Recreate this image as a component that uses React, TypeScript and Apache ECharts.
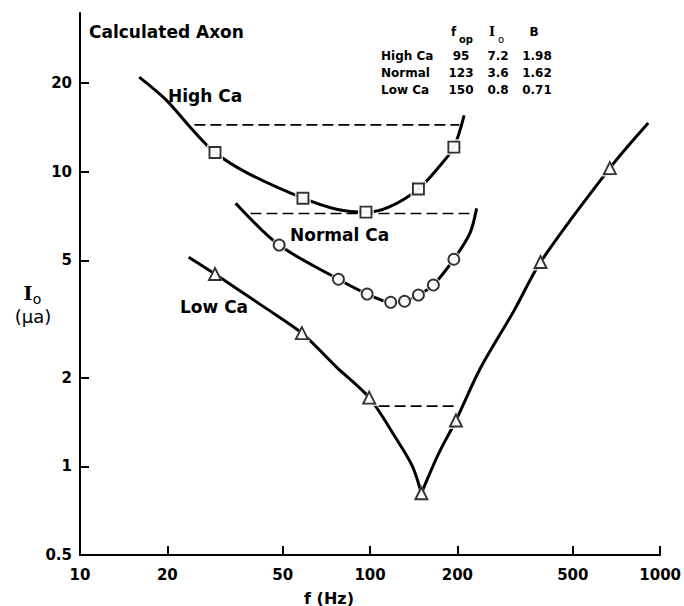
import React, { useEffect, useRef } from 'react';
import * as echarts from 'echarts';

// Axis tick labels (log-log plot)
const xTickLabels = [10, 20, 50, 100, 200, 500, 1000];
const yTickLabels = [0.5, 1, 2, 5, 10, 20];

// Smooth curves (f in Hz, I0 in µA)
const highCaCurveF = [16.0, 19.8, 24.2, 29.2, 37.8, 58.7, 76.6, 96.8, 116, 146.8, 171.8, 194.5, 211];
const highCaCurveI = [20.9, 17.5, 14.0, 11.6, 9.88, 8.12, 7.45, 7.28, 7.57, 8.72, 10.3, 12.1, 15.5];

const normalCaCurveF = [34.4, 48.6, 77.8, 97.7, 117.8, 131.5, 146.8, 165.3, 194.5, 221, 233];
const normalCaCurveI = [7.81, 5.63, 4.31, 3.84, 3.6, 3.63, 3.81, 4.12, 5.04, 6.18, 7.5];

const lowCaLeftF = [23.7, 29.2, 43.3, 58.2, 76.6, 99.3, 122.5, 140, 150.3];
const lowCaLeftI = [5.12, 4.49, 3.46, 2.83, 2.17, 1.71, 1.25, 1.0, 0.81];
const lowCaRightF = [150.3, 172, 197.7, 240, 314, 387, 671, 910];
const lowCaRightI = [0.81, 1.1, 1.43, 2.15, 3.38, 4.93, 10.27, 14.6];

// Markers
const highCaF = [29.2, 58.7, 96.8, 146.8, 194.5];
const highCaI = [11.6, 8.12, 7.28, 8.72, 12.1];
const normalCaF = [48.6, 77.8, 97.7, 117.8, 131.5, 146.8, 165.3, 194.5];
const normalCaI = [5.63, 4.31, 3.84, 3.6, 3.63, 3.81, 4.12, 5.04];
const lowCaF = [29.2, 58.2, 99.3, 150.3, 197.7, 387, 671];
const lowCaI = [4.49, 2.83, 1.71, 0.81, 1.43, 4.93, 10.27];

// Dashed lines at 2 x I0
const highDashF = [24.8, 203];
const normalDashF = [38.7, 230];
const lowDashF = [107, 202];

// Table
const tableRows = ['High Ca', 'Normal', 'Low Ca'];
const tableFop = ['95', '123', '150'];
const tableI0 = ['7.2', '3.6', '0.8'];
const tableB = ['1.98', '1.62', '0.71'];
const tableI0Values = [7.2, 3.6, 0.8];

const L = Math.log10;
const zip = (f: number[], i: number[]) => f.map((v, k) => [L(v), L(i[k])]);
const fmt = (v: number) => String(Number(Math.pow(10, v).toPrecision(6)));

const FONT = 'DejaVu Sans';

export default function App() {
  const ref = useRef<HTMLDivElement>(null);
  useEffect(() => {
    if (!ref.current) return;
    const chart = echarts.init(ref.current, null, { renderer: 'svg' });

    const curveSeries = (data: number[][]) => ({
      type: 'line',
      data,
      showSymbol: false,
      smooth: 0.3,
      lineStyle: { color: '#000', width: 3 },
      z: 2,
      silent: true,
    });
    const dashSeries = (f: number[], level: number) => ({
      type: 'line',
      data: f.map((v) => [L(v), L(level)]),
      showSymbol: false,
      lineStyle: { color: '#000', width: 1.6, type: [11, 5] },
      z: 2,
      silent: true,
    });
    const gapSeries = (data: number[][], symbol: string, size: number) => ({
      type: 'scatter',
      data,
      symbol,
      symbolSize: size,
      itemStyle: { color: '#fff', borderWidth: 0 },
      z: 3,
      silent: true,
    });
    const markerSeries = (data: number[][], symbol: string, size: number) => ({
      type: 'scatter',
      data,
      symbol,
      symbolSize: size,
      itemStyle: { color: '#fff', borderColor: '#000', borderWidth: 1.9 },
      z: 4,
      silent: true,
    });

    const txt = (text: string, x: number, y: number, size: number, opts: any = {}) => ({
      type: 'text',
      x,
      y,
      style: {
        text,
        fontSize: size,
        fontWeight: opts.weight || 'bold',
        fontFamily: opts.family || FONT,
        fill: '#000',
        align: opts.align || 'left',
        verticalAlign: 'middle',
      },
      silent: true,
    });

    const rowY = [56, 73, 90];
    const tableEls: any[] = [];
    tableRows.forEach((name, k) => {
      tableEls.push(txt(name, 381, rowY[k], 12));
      tableEls.push(txt(tableFop[k], 461, rowY[k], 12, { align: 'center' }));
      tableEls.push(txt(tableI0[k], 498, rowY[k], 12, { align: 'center' }));
      tableEls.push(txt(tableB[k], 537, rowY[k], 12, { align: 'center' }));
    });

    const highMarks = zip(highCaF, highCaI);
    const normalMarks = zip(normalCaF, normalCaI);
    const lowMarks = zip(lowCaF, lowCaI);

    chart.setOption({
      animation: false,
      backgroundColor: '#fff',
      grid: { left: 80, right: 16, top: 13, bottom: 51 },
      xAxis: {
        type: 'value',
        min: L(10),
        max: L(1000),
        axisLine: { show: true, onZero: false, lineStyle: { color: '#000', width: 2 } },
        axisTick: {
          show: true,
          inside: true,
          length: 9,
          lineStyle: { color: '#000', width: 2 },
          customValues: xTickLabels.map(L),
        },
        axisLabel: {
          customValues: xTickLabels.map(L),
          formatter: (v: number) => fmt(v),
          color: '#000',
          fontFamily: FONT,
          fontWeight: 'bold',
          fontSize: 15,
          margin: 12,
        },
        splitLine: { show: false },
      },
      yAxis: {
        type: 'value',
        min: L(0.5),
        max: L(34.5),
        axisLine: { show: true, onZero: false, lineStyle: { color: '#000', width: 2 } },
        axisTick: {
          show: true,
          inside: true,
          length: 9,
          lineStyle: { color: '#000', width: 2 },
          customValues: yTickLabels.map(L),
        },
        axisLabel: {
          customValues: yTickLabels.map(L),
          formatter: (v: number) => fmt(v),
          color: '#000',
          fontFamily: FONT,
          fontWeight: 'bold',
          fontSize: 15,
          margin: 8,
        },
        splitLine: { show: false },
      },
      series: [
        curveSeries(zip(highCaCurveF, highCaCurveI)),
        curveSeries(zip(normalCaCurveF, normalCaCurveI)),
        curveSeries(zip(lowCaLeftF, lowCaLeftI)),
        curveSeries(zip(lowCaRightF, lowCaRightI)),
        dashSeries(highDashF, 2 * tableI0Values[0]),
        dashSeries(normalDashF, 2 * tableI0Values[1]),
        dashSeries(lowDashF, 2 * tableI0Values[2]),
        gapSeries(highMarks, 'rect', 16),
        gapSeries(normalMarks, 'circle', 15),
        gapSeries(lowMarks, 'triangle', 17),
        markerSeries(highMarks, 'rect', 11),
        markerSeries(normalMarks, 'circle', 11),
        markerSeries(lowMarks, 'triangle', 12),
      ],
      graphic: [
        txt('Calculated Axon', 89, 32, 17),
        txt('High Ca', 168, 96, 17),
        txt('Normal Ca', 290, 235, 17),
        txt('Low Ca', 180, 307, 17),
        txt('f (Hz)', 329, 598, 16, { align: 'center' }),
        txt('I', 28, 293, 19, { align: 'center', family: 'DejaVu Serif' }),
        txt('o', 37, 299, 14, { align: 'center', weight: 'normal' }),
        txt('(μa)', 33, 316, 18, { align: 'center', weight: 'normal' }),
        txt('f', 451, 32, 12),
        txt('op', 466, 39, 10, { align: 'center' }),
        txt('I', 492, 31, 13, { align: 'center', family: 'DejaVu Serif' }),
        txt('o', 501, 39, 10, { align: 'center', weight: 'normal' }),
        txt('B', 534, 32, 12, { align: 'center' }),
        ...tableEls,
      ],
    });
    return () => chart.dispose();
  }, []);
  return (
    <div
      ref={ref}
      style={{ position: 'absolute', left: 0, top: 0, width: 684, height: 606 }}
    />
  );
}
